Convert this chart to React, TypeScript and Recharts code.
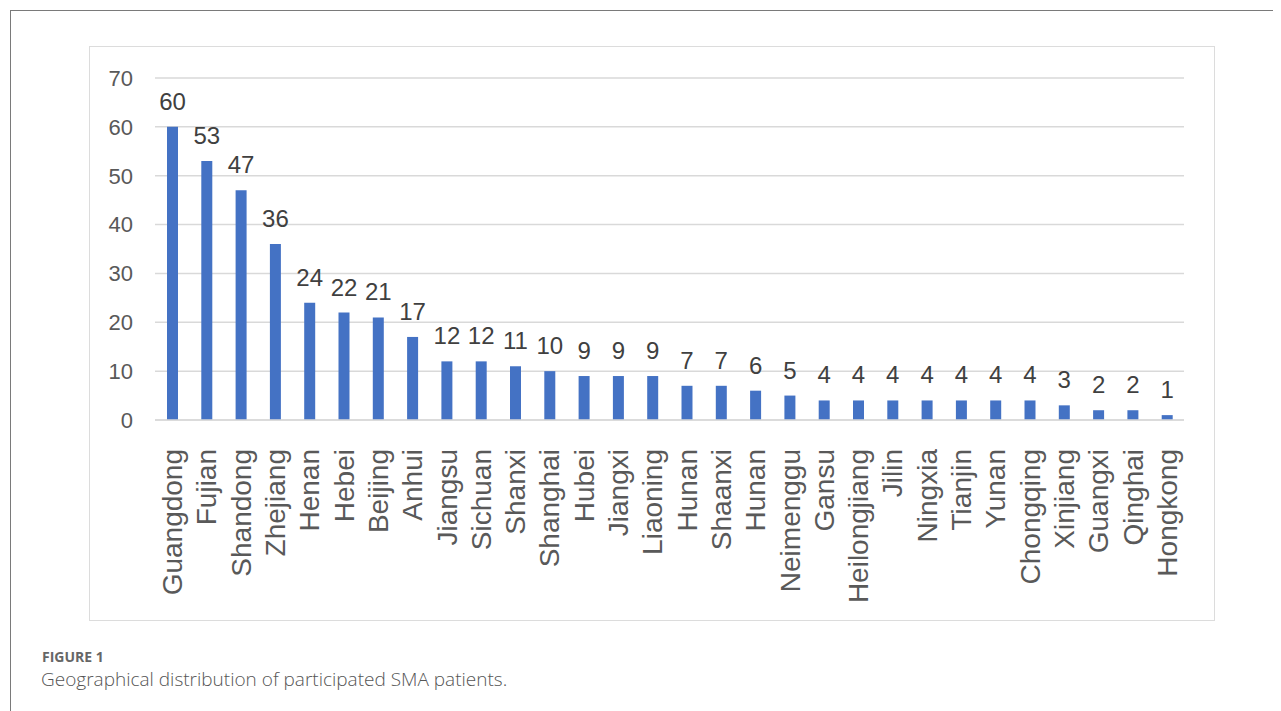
import { BarChart, Bar, CartesianGrid, XAxis, YAxis, LabelList } from 'recharts';

// provinces, in the order of the figure
const provinces = [
    'Guangdong', 'Fujian', 'Shandong', 'Zhejiang', 'Henan', 'Hebei', 'Beijing', 'Anhui',
    'Jiangsu', 'Sichuan', 'Shanxi', 'Shanghai', 'Hubei', 'Jiangxi', 'Liaoning', 'Hunan',
    'Shaanxi', 'Hunan', 'Neimenggu', 'Gansu', 'Heilongjiang', 'Jilin', 'Ningxia', 'Tianjin',
    'Yunan', 'Chongqing', 'Xinjiang', 'Guangxi', 'Qinghai', 'Hongkong',
]
const patients = [60, 53, 47, 36, 24, 22, 21, 17, 12, 12, 11, 10, 9, 9, 9, 7, 7, 6, 5, 4, 4, 4, 4, 4, 4, 4, 3, 2, 2, 1]
const yTicks = [0, 10, 20, 30, 40, 50, 60, 70]

// "Hunan" appears twice, so the axis runs on the index
const data = provinces.map((name, i) => ({ id: i, name, value: patients[i] }))

const FONT = '"Liberation Sans", Arial, sans-serif'

const ProvinceTick = (props: any) => {
    const { x, y, payload } = props
    return (
        <text
            x={0}
            y={0}
            transform={`translate(${x + 10},${y + 21}) rotate(-90)`}
            textAnchor="end"
            fontSize={28}
            fontFamily={FONT}
            fill="#595959"
        >
            {provinces[payload.value]}
        </text>
    )
}

const App = () => {
    return (
        <div style={{ position: 'relative', width: 1273, height: 703 }}>
            <div style={{
                position: 'absolute', left: 2, top: 2, width: 1300, height: 720,
                borderLeft: '1.5px solid #7a7a7a', borderTop: '1.5px solid #7a7a7a',
            }} />
            <div style={{
                position: 'absolute', left: 81, top: 38, width: 1124, height: 573,
                border: '1.5px solid #dcdcdc', background: '#fff',
            }}>
                <BarChart
                    width={1124}
                    height={573}
                    data={data}
                    margin={{ top: 31, right: 30, left: 0, bottom: 0 }}
                    barCategoryGap="34%"
                >
                    <CartesianGrid vertical={false} stroke="#d9d9d9" strokeWidth={1.5} />
                    <XAxis
                        dataKey="id"
                        type="category"
                        height={200}
                        axisLine={{ stroke: '#d9d9d9', strokeWidth: 1.5 }}
                        tickLine={false}
                        interval={0}
                        tick={<ProvinceTick />}
                    />
                    <YAxis
                        domain={[0, 70]}
                        ticks={yTicks}
                        width={65}
                        axisLine={false}
                        tickLine={false}
                        tickMargin={16}
                        tick={{ fontSize: 22, fill: '#595959', fontFamily: FONT }}
                    />
                    <Bar dataKey="value" fill="#4472C4" barSize={11} isAnimationActive={false}>
                        <LabelList
                            dataKey="value"
                            position="top"
                            offset={17}
                            fontSize={24}
                            fill="#404040"
                            fontFamily={FONT}
                        />
                    </Bar>
                </BarChart>
            </div>
            <div style={{
                position: 'absolute', left: 34, top: 639, fontFamily: '"Open Sans", sans-serif',
                fontSize: 14, fontWeight: 700, color: '#666',
            }}>
                FIGURE 1
            </div>
            <div style={{
                position: 'absolute', left: 33, top: 658, fontFamily: '"Open Sans", sans-serif',
                fontSize: 19, fontWeight: 300, color: '#555',
            }}>
                Geographical distribution of participated SMA patients.
            </div>
        </div>
    )
}

export default App
